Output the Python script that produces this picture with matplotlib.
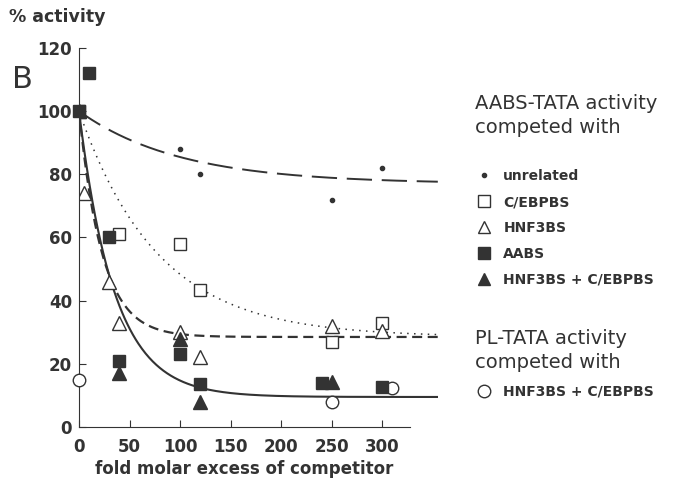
import numpy as np
import matplotlib.pyplot as plt
from matplotlib.lines import Line2D

# data (fold molar excess, % activity)
unrelated_x = [0, 100, 120, 250, 300]
unrelated_y = [100, 88, 80, 72, 82]
cebp_x = [0, 40, 100, 120, 250, 300]
cebp_y = [100, 61, 58, 43.5, 27, 33]
hnf3_x = [0, 5, 30, 40, 100, 120, 250, 300]
hnf3_y = [100, 74, 46, 33, 30, 22, 32, 30.5]
aabs_x = [0, 10, 30, 40, 100, 120, 240, 300]
aabs_y = [100, 112, 60, 21, 23, 13.5, 14, 12.6]
combo_x = [0, 40, 100, 120, 250]
combo_y = [100, 17, 28, 8, 14.3]
pl_x = [0, 250, 310]
pl_y = [15, 8, 12.4]

# fitted curves: plateau, amplitude, decay constant
fit_unrelated = (77, 23, 100)
fit_cebp = (28.5, 71.5, 78)
fit_hnf3 = (28.5, 71.5, 23)
fit_aabs = (9.5, 90.5, 35)

xticks = [0, 50, 100, 150, 200, 250, 300]
yticks = [0, 20, 40, 60, 80, 100, 120]

c = '#333333'


def decay(x, p):
    return p[0] + p[1] * np.exp(-x / p[2])


def main():
    plt.rcParams['font.family'] = ['DejaVu Sans']
    fig = plt.figure(figsize=(6.77, 4.9), dpi=100)
    ax = fig.add_axes([0.1167, 0.1286, 0.530, 0.7735])

    xs = np.linspace(0, 355, 400)
    ax.plot(xs, decay(xs, fit_unrelated), color=c, lw=1.4, ls=(0, (13, 5)))
    ax.plot(xs, decay(xs, fit_cebp), color=c, lw=1.1, ls=(0, (1, 3.5)))
    ax.plot(xs, decay(xs, fit_hnf3), color=c, lw=1.6, ls=(0, (4.5, 2.5)))
    ax.plot(xs, decay(xs, fit_aabs), color=c, lw=1.5)

    ms = 9
    ax.plot(unrelated_x, unrelated_y, 'o', ms=3, color=c, ls='none')
    ax.plot(cebp_x, cebp_y, 's', ms=ms, mfc='white', mec=c, mew=1, ls='none')
    ax.plot(hnf3_x, hnf3_y, '^', ms=ms + 1, mfc='white', mec=c, mew=1, ls='none')
    ax.plot(pl_x, pl_y, 'o', ms=ms, mfc='white', mec=c, mew=1, ls='none', clip_on=False, zorder=5)
    ax.plot(combo_x, combo_y, '^', ms=ms + 1, color=c, ls='none')
    ax.plot(aabs_x, aabs_y, 's', ms=ms, color=c, ls='none', clip_on=False, zorder=6)

    ax.set_xlim(0, 355)
    ax.set_ylim(0, 120)
    ax.set_xticks(xticks)
    ax.set_yticks(yticks)
    for s in ['top', 'right']:
        ax.spines[s].set_visible(False)
    ax.spines['bottom'].set_bounds(0, 327)
    ax.spines['left'].set_color(c)
    ax.spines['bottom'].set_color(c)
    ax.tick_params(axis='x', direction='in', length=5, color=c, pad=8,
                   labelsize=12, labelcolor=c)
    ax.tick_params(axis='y', direction='in', length=5, color=c, pad=5,
                   labelsize=12, labelcolor=c)
    for lab in ax.get_xticklabels() + ax.get_yticklabels():
        lab.set_fontweight('bold')
    ax.set_xlabel('fold molar excess of competitor', fontsize=12, fontweight='bold',
                  color=c)
    ax.xaxis.set_label_coords(327 / 2 / 355, -0.086)

    fig.text(0.013, 0.955, '% activity', fontsize=12.5, fontweight='bold', color=c)
    fig.text(0.018, 0.82, 'B', fontsize=22, color=c)

    h1 = [Line2D([], [], marker='o', ms=3, color=c, ls='none'),
          Line2D([], [], marker='s', ms=8, mfc='white', mec=c, ls='none'),
          Line2D([], [], marker='^', ms=9, mfc='white', mec=c, ls='none'),
          Line2D([], [], marker='s', ms=8, color=c, ls='none'),
          Line2D([], [], marker='^', ms=9, color=c, ls='none')]
    l1 = ['unrelated', 'C/EBPBS', 'HNF3BS', 'AABS', 'HNF3BS + C/EBPBS']
    leg1 = ax.legend(h1, l1, loc='upper left', bbox_to_anchor=(0.686, 0.68),
                     bbox_transform=fig.transFigure, frameon=False,
                     handlelength=1, handletextpad=0.9, labelspacing=0.85,
                     prop={'size': 10, 'weight': 'bold'}, labelcolor=c)
    ax.add_artist(leg1)
    h2 = [Line2D([], [], marker='o', ms=9, mfc='white', mec=c, ls='none')]
    leg2 = ax.legend(h2, ['HNF3BS + C/EBPBS'], loc='upper left',
                     bbox_to_anchor=(0.686, 0.241), bbox_transform=fig.transFigure,
                     frameon=False, handlelength=1, handletextpad=0.9,
                     prop={'size': 10, 'weight': 'bold'}, labelcolor=c)

    fig.text(0.701, 0.72, 'AABS-TATA activity\ncompeted with', fontsize=14,
             color=c, linespacing=1.35, va='bottom')
    fig.text(0.701, 0.24, 'PL-TATA activity\ncompeted with', fontsize=14,
             color=c, linespacing=1.35, va='bottom')

    fig.savefig('out.png', dpi=100)


if __name__ == "__main__":
    main()
